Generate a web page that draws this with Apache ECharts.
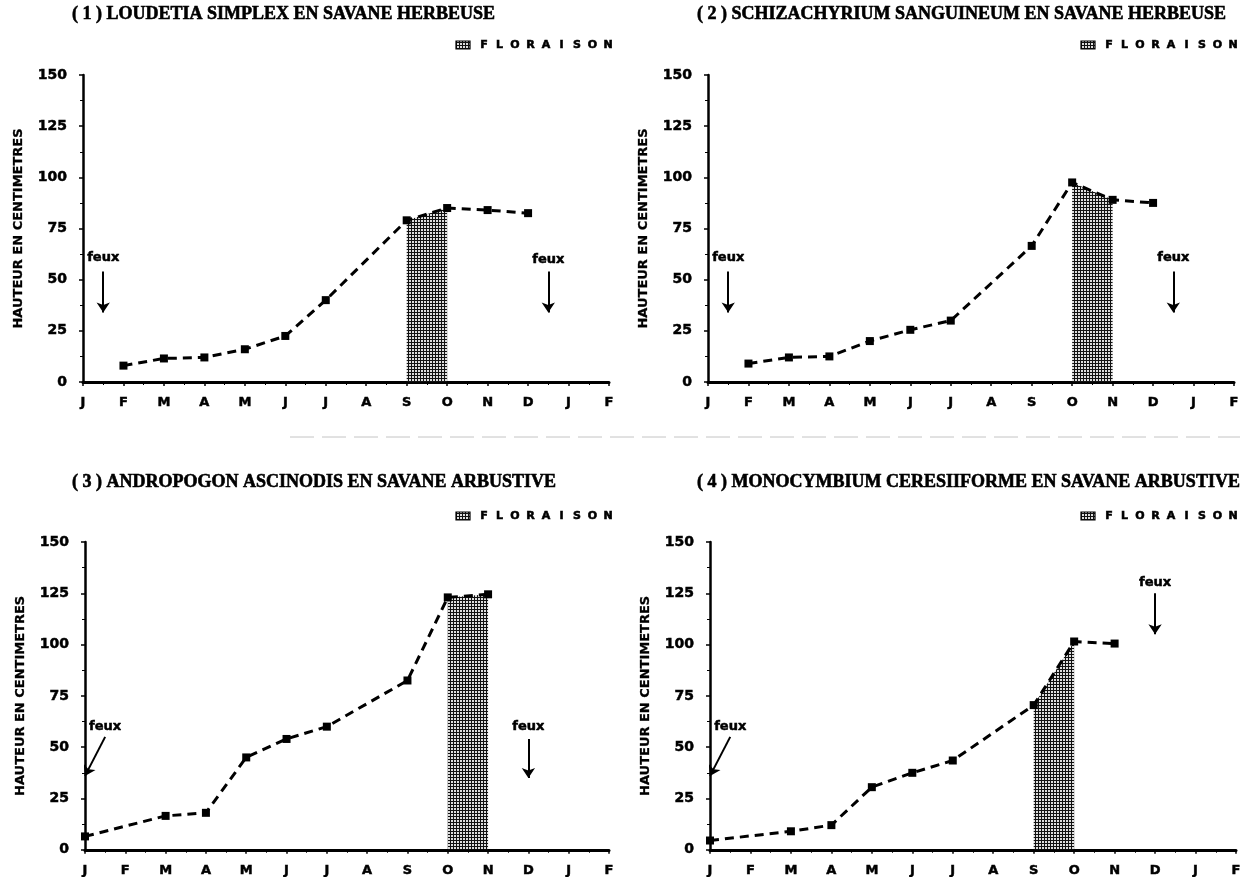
<!DOCTYPE html>
<html>
<head>
<meta charset="utf-8">
<script src="https://cdn.jsdelivr.net/npm/echarts@6/dist/echarts.min.js"></script>
<style>html,body{margin:0;padding:0;background:#fff}#c{width:1251px;height:877px}</style>
</head>
<body>
<div id="c"></div>
<script>
// ---- data ----
const months = ['J','F','M','A','M','J','J','A','S','O','N','D','J','F'];
const yTicks = [0, 25, 50, 75, 100, 125, 150];
const titles = [
  '( 1 ) LOUDETIA SIMPLEX EN SAVANE HERBEUSE',
  '( 2 ) SCHIZACHYRIUM SANGUINEUM EN SAVANE HERBEUSE',
  '( 3 ) ANDROPOGON ASCINODIS EN SAVANE ARBUSTIVE',
  '( 4 ) MONOCYMBIUM CERESIIFORME EN SAVANE ARBUSTIVE'
];
// heights (cm) by month index (0 = J ... 11 = D), null = no measure
const heights1 = [null, 8, 11.5, 12, 16, 22.5, 40, null, 79, 85, 84, 82.5];
const heights2 = [null, 9, 12, 12.5, 20, 25.5, 30, null, 66.5, 97.5, 89, 87.5];
const heights3 = [6.5, null, 16.5, 18, 45, 54, 60, null, 82.5, 123, 124.5];
const heights4 = [4.5, null, 9, 12, 30.5, 37.5, 43.5, null, 70.5, 101.5, 100.5];
// flowering period (month index start, end)
const flower1 = [8, 9];
const flower2 = [9, 10];
const flower3 = [9, 10];
const flower4 = [8, 9];
// fire annotations: label point, arrow from, arrow to  ([month, cm])
const feux1 = [{label:[0.5, 61], from:[0.5, 54], to:[0.5, 34]}, {label:[11.5, 60], from:[11.5, 54], to:[11.5, 34]}];
const feux2 = [{label:[0.5, 61], from:[0.5, 54], to:[0.5, 34]}, {label:[11.5, 61], from:[11.5, 54], to:[11.5, 34]}];
const feux3 = [{label:[0.5, 60], from:[0.5, 55], to:[0, 36]}, {label:[11, 60], from:[11, 54], to:[11, 35]}];
const feux4 = [{label:[0.5, 60], from:[0.5, 55], to:[0, 36]}, {label:[11, 130], from:[11, 125], to:[11, 105]}];

const allHeights = [heights1, heights2, heights3, heights4];
const allFlower = [flower1, flower2, flower3, flower4];
const allFeux = [feux1, feux2, feux3, feux4];

// ---- layout ----
const grids = [
  {left: 83, top: 75, width: 526, height: 307},
  {left: 708, top: 75, width: 526, height: 307},
  {left: 85, top: 542, width: 524, height: 310},
  {left: 710, top: 542, width: 526, height: 310}
];
const titlePos = [[72, 5], [697, 5], [72, 473], [697, 473]];
const legendPos = [[456, 45], [1081, 45], [456, 516], [1081, 516]];

const pat = (function(){
  const c = document.createElement('canvas'); c.width = 3; c.height = 3;
  const g = c.getContext('2d');
  g.fillStyle = '#dedede'; g.fillRect(0,0,3,3);
  g.fillStyle = '#111'; g.fillRect(0,0,3,1); g.fillRect(0,0,1,3);
  return c;
})();
const hatch = {image: pat, repeat: 'repeat'};

const sans = '"DejaVu Sans", "Liberation Sans", Arial, sans-serif';
const serif = '"Liberation Serif", "DejaVu Serif", serif';
const heavy = {color: '#000', fontFamily: sans, fontWeight: 'bold', textBorderColor: '#000', textBorderWidth: 0.5};

const xAxes = [], yAxes = [], series = [], graphics = [], titleOpts = [];
grids.forEach((g, k) => {
  xAxes.push({
    type: 'value', gridIndex: k, min: 0, max: 13, interval: 1,
    axisLine: {show: true, onZero: false, lineStyle: {color: '#000', width: 3}},
    axisTick: {show: true, length: 4, lineStyle: {color: '#000', width: 1.5}},
    minorTick: {show: true, splitNumber: 2, length: 3, lineStyle: {color: '#000', width: 1}},
    splitLine: {show: false},
    axisLabel: Object.assign({formatter: v => months[v] || '', fontSize: 13, margin: 14}, heavy)
  });
  yAxes.push({
    type: 'value', gridIndex: k, min: 0, max: 150, interval: 25,
    name: 'HAUTEUR EN CENTIMETRES', nameLocation: 'middle', nameGap: 58,
    nameTextStyle: Object.assign({fontSize: 13}, heavy, {textBorderWidth: 0.3}),
    axisLine: {show: true, onZero: false, lineStyle: {color: '#000', width: 2.5}},
    axisTick: {show: true, length: 4, lineStyle: {color: '#000', width: 1.5}},
    minorTick: {show: true, splitNumber: 2, length: 3, lineStyle: {color: '#000', width: 1}},
    splitLine: {show: false},
    axisLabel: Object.assign({formatter: v => yTicks.indexOf(v) >= 0 ? String(v) : '', fontSize: 14, margin: 16}, heavy)
  });
  const h = allHeights[k];
  const fl = allFlower[k];
  series.push({
    type: 'line', xAxisIndex: k, yAxisIndex: k, z: 1,
    data: [[fl[0], h[fl[0]]], [fl[1], h[fl[1]]]],
    symbol: 'none', lineStyle: {width: 0}, areaStyle: {color: hatch, opacity: 1}, silent: true
  });
  series.push({
    type: 'line', xAxisIndex: k, yAxisIndex: k, z: 3,
    data: h.map((v, i) => v == null ? null : [i, v]).filter(Boolean),
    symbol: 'rect', symbolSize: 8, itemStyle: {color: '#000'},
    lineStyle: {color: '#000', width: 3, type: [9, 6]}, silent: true
  });
  const fx = allFeux[k];
  series.push({
    type: 'lines', coordinateSystem: 'cartesian2d', xAxisIndex: k, yAxisIndex: k, z: 4,
    data: fx.map(f => ({coords: [f.from, f.to]})),
    symbol: ['none', 'arrow'], symbolSize: [0, 10],
    lineStyle: {color: '#000', width: 2, opacity: 1}, silent: true
  });
  series.push({
    type: 'scatter', xAxisIndex: k, yAxisIndex: k, z: 4,
    data: fx.map(f => f.label), symbolSize: 0.01, itemStyle: {color: '#000', opacity: 1},
    label: Object.assign({show: true, position: 'inside', formatter: 'feux', fontSize: 13}, heavy),
    silent: true
  });
  titleOpts.push({
    text: titles[k], left: titlePos[k][0], top: titlePos[k][1], padding: 0,
    textStyle: {color: '#000', fontFamily: serif, fontWeight: 'bold', fontSize: 18, textBorderColor: '#000', textBorderWidth: 0.6}
  });
  const lp = legendPos[k];
  const kids = [{type: 'rect', shape: {x: 0, y: -4, width: 14, height: 8}, style: {fill: hatch, stroke: '#000', lineWidth: 1.2}}];
  'FLORAISON'.split('').forEach((ch, i) => {
    kids.push({type: 'text', x: 28 + i * 15.5, y: 0, style: {text: ch, fill: '#000', stroke: '#000', lineWidth: 0.6, font: 'bold 11px ' + sans, textAlign: 'center', textVerticalAlign: 'middle'}});
  });
  graphics.push({type: 'group', x: lp[0], y: lp[1], children: kids});
});
graphics.push({type: 'line', shape: {x1: 290, y1: 437, x2: 1240, y2: 437}, style: {stroke: '#c4c4c4', lineWidth: 1, lineDash: [24, 8]}});

const chart = echarts.init(document.getElementById('c'), null, {renderer: 'canvas'});
chart.setOption({
  animation: false,
  backgroundColor: '#fff',
  title: titleOpts,
  grid: grids,
  xAxis: xAxes,
  yAxis: yAxes,
  series: series,
  graphic: graphics
});
</script>
</body>
</html>
